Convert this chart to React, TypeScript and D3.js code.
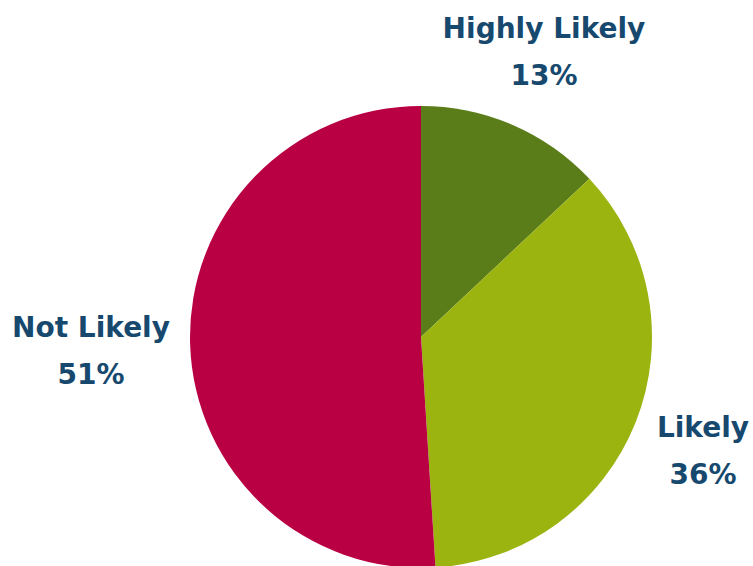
import React from "react";
import * as d3 from "d3";

const categories = ["Highly Likely", "Likely", "Not Likely"];
const values = [13, 36, 51];
const colors = ["#5a7d1a", "#9cb40f", "#b90043"];
const labelPos: [number, number][] = [
  [544, 38],
  [703, 437],
  [91, 337],
];

export default function App() {
  const W = 753, H = 566;
  const cx = 421, cy = 337, r = 231;
  const pie = d3.pie<number>().sort(null).value((d) => d);
  const arcs = pie(values);
  const arc = d3.arc<d3.PieArcDatum<number>>().innerRadius(0).outerRadius(r);
  return (
    <svg width={W} height={H} style={{ position: "absolute", left: 0, top: 0 }}>
      <rect width={W} height={H} fill="#fff" />
      <g transform={`translate(${cx},${cy})`}>
        {arcs.map((a, i) => (
          <path key={i} d={arc(a) || ""} fill={colors[i]} />
        ))}
      </g>
      {categories.map((c, i) => (
        <text
          key={c}
          x={labelPos[i][0]}
          y={labelPos[i][1]}
          textAnchor="middle"
          fill="#17496f"
          fontFamily="'DejaVu Sans', sans-serif"
          fontWeight="bold"
          fontSize={28}
        >
          <tspan x={labelPos[i][0]}>{c}</tspan>
          <tspan x={labelPos[i][0]} dy={47}>{values[i]}%</tspan>
        </text>
      ))}
    </svg>
  );
}
